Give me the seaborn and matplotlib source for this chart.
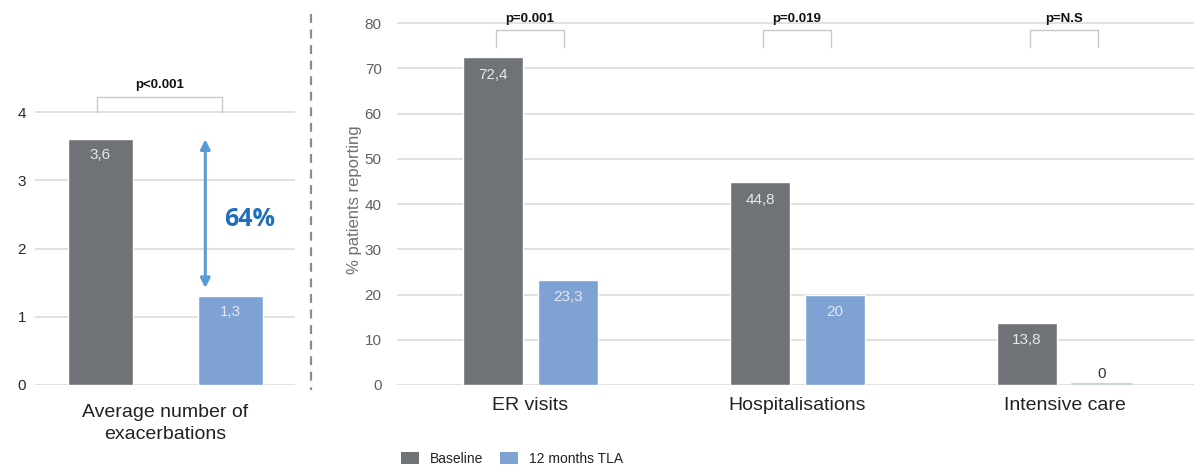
import matplotlib
matplotlib.use("Agg")
import matplotlib.pyplot as plt
from matplotlib.lines import Line2D
from matplotlib.patches import Patch
import pandas as pd
import seaborn as sns

# ---- data ----
groups = ["Baseline", "12 months TLA"]
left_category = ["Average number of\nexacerbations"]
left_values = [3.6, 1.3]
left_pvalue = "p<0.001"
reduction_label = "64%"

right_categories = ["ER visits", "Hospitalisations", "Intensive care"]
baseline_pct = [72.4, 44.8, 13.8]
tla_pct = [23.3, 20.0, 0.0]
right_pvalues = ["p=0.001", "p=0.019", "p=N.S"]

left_ticks = [0, 1, 2, 3, 4]
right_ticks = [0, 10, 20, 30, 40, 50, 60, 70, 80]

GRAY = "#6f7276"
BLUE = "#7ea2d3"
GRID = "#dcdcdc"

sns.set_theme(style="white")
plt.rcParams["font.family"] = ["Liberation Sans", "DejaVu Sans"]

fig = plt.figure(figsize=(11.94, 4.71), dpi=100)
W, H = 1194, 471

def axes_px(x0, x1, ybase, ytop):
    return fig.add_axes([x0 / W, (H - ybase) / H, (x1 - x0) / W, (ybase - ytop) / H])


def fmt(v):
    s = f"{v:.1f}".rstrip("0").rstrip(".")
    return s.replace(".", ",")


def style_axes(ax, ticks, pad, tick_color):
    for sp in ax.spines.values():
        sp.set_visible(False)
    ax.set_yticks(ticks)
    ax.yaxis.grid(True, color=GRID, linewidth=1.2)
    ax.set_axisbelow(True)
    ax.tick_params(axis="y", length=0, pad=pad, labelsize=11, labelcolor=tick_color)
    ax.tick_params(axis="x", length=0, labelsize=14, labelcolor="#222222")
    ax.set_xlabel("")


def bracket(ax, x0, x1, y0, y1, text, ty):
    ax.plot([x0, x0, x1, x1], [y0, y1, y1, y0], color="#c8c8c8", lw=1.0, clip_on=False)
    ax.text((x0 + x1) / 2, ty, text, ha="center", va="center", fontsize=9.5,
            fontweight="bold", color="#111111", clip_on=False)


# ---- left panel: average number of exacerbations ----
axL = axes_px(35, 295, 385, 385 - 4.5 * 68.25)
df_left = pd.DataFrame({"category": left_category * 2, "group": groups, "value": left_values})
sns.barplot(data=df_left, x="category", y="value", hue="group", hue_order=groups,
            palette=[GRAY, BLUE], width=1.0, gap=0.5, saturation=1, legend=False, ax=axL)
axL.set_xlim(-0.5, 0.5)
axL.set_ylim(0, 4.5)
style_axes(axL, left_ticks, 6.5, "#2a2a2a")
axL.set_ylabel("")
axL.tick_params(axis="x", pad=14)
for lbl in axL.get_xticklabels():
    lbl.set_linespacing(1.35)

for bars, v in zip(axL.containers, left_values):
    for b in bars:
        axL.text(b.get_x() + b.get_width() / 2, v - 0.23, fmt(v), ha="center", va="center",
                 fontsize=11, color="#e4e8ee")

bL = [c[0] for c in axL.containers]
xl0 = bL[0].get_x() + bL[0].get_width() / 2
xl1 = bL[1].get_x() + bL[1].get_width() / 2
bracket(axL, xl0 - 0.01, xl1 - 0.03, 4.0, 4.22, left_pvalue, 4.4)

axL.annotate("", xy=(0.155, left_values[0]), xytext=(0.155, left_values[1] + 0.12),
             arrowprops=dict(arrowstyle="<|-|>", color="#5b9bd5", lw=2.2,
                             mutation_scale=14, shrinkA=0, shrinkB=0))
axL.text(0.325, 2.42, reduction_label, ha="center", va="center", fontsize=18,
         fontweight="bold", color="#1f6fbd", family=["Open Sans", "DejaVu Sans"])

# ---- right panel: healthcare use ----
axR = axes_px(397, 1198, 385, 385 - 82 * 4.525)
df_right = pd.DataFrame({
    "category": right_categories * 2,
    "group": [groups[0]] * 3 + [groups[1]] * 3,
    "value": baseline_pct + tla_pct,
})
sns.barplot(data=df_right, x="category", y="value", hue="group", hue_order=groups,
            palette=[GRAY, BLUE], width=0.56, gap=0.2, saturation=1, legend=False, ax=axR)
axR.set_xlim(-0.5, 2.5)
axR.set_ylim(0, 82)
style_axes(axR, right_ticks, 11, "#606060")
axR.tick_params(axis="x", pad=9)
axR.set_ylabel("% patients reporting", fontsize=12, color="#707070", labelpad=2)

for bars, vals in zip(axR.containers, [baseline_pct, tla_pct]):
    for b, v in zip(bars, vals):
        cx = b.get_x() + b.get_width() / 2
        if v > 0:
            axR.text(cx, v - 3.9, fmt(v), ha="center", va="center", fontsize=11, color="#e4e8ee")
        else:
            axR.plot([b.get_x(), b.get_x() + b.get_width()], [0.15, 0.15], color="#c9d3e0", lw=1.5)
            axR.text(cx, 2.4, fmt(v), ha="center", va="center", fontsize=11, color="#333333")

base_bars, tla_bars = axR.containers[0], axR.containers[1]
for bb, tb, p in zip(base_bars, tla_bars, right_pvalues):
    x0 = bb.get_x() + bb.get_width() / 2 + 0.01
    x1 = tb.get_x() + tb.get_width() / 2 - 0.015
    bracket(axR, x0, x1, 74.6, 78.4, p, 80.9)

# ---- dashed separator ----
fig.add_artist(Line2D([310.7 / W, 310.7 / W], [(H - 14) / H, (H - 390) / H],
                      transform=fig.transFigure, color="#8c8c8c", lw=1.6,
                      linestyle=(0, (4, 3))))

# ---- legend ----
handles = [Patch(facecolor=GRAY, edgecolor="none"), Patch(facecolor=BLUE, edgecolor="none")]
fig.legend(handles, groups, loc="center left", bbox_to_anchor=(388 / W, (H - 459) / H),
           ncol=2, frameon=False, fontsize=10, handlelength=1.3, handleheight=0.9,
           handletextpad=0.8, columnspacing=1.2, labelcolor="#222222")

fig.savefig("out.png", dpi=100)
